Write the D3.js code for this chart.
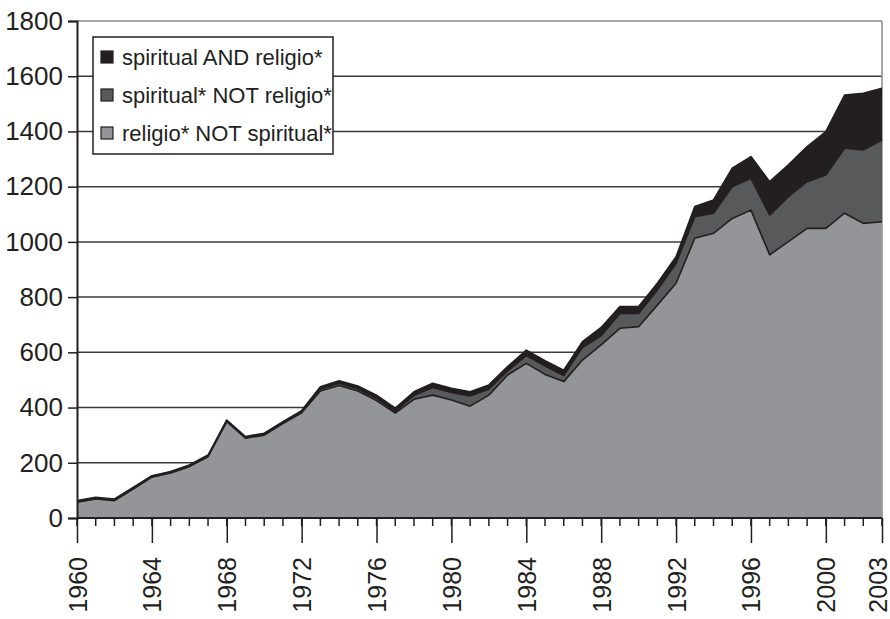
<!DOCTYPE html>
<html>
<head>
<meta charset="utf-8">
<script src="https://cdn.jsdelivr.net/npm/d3@7"></script>
<style>
  body { margin: 0; background: #fff; }
  svg text { font-family: "Liberation Sans", Arial, sans-serif; fill: #231f20; }
</style>
</head>
<body>
<div id="chart"></div>
<script>
// years on the x axis
var years = d3.range(1960, 2004);

// religio* NOT spiritual*
var religioNotSpiritual = [57, 69, 63, 105, 148, 163, 186, 222, 349, 289,
    300, 342, 381, 460, 480, 460, 425, 380, 430, 445,
    427, 405, 445, 518, 560, 520, 494, 572, 627, 687,
    693, 771, 850, 1013, 1031, 1085, 1115, 953, 1001, 1049,
    1049, 1104, 1067, 1073];

// spiritual* NOT religio*
var spiritualNotReligio = [2, 2, 2, 2, 2, 2, 2, 2, 2, 2,
    3, 3, 3, 7, 8, 8, 8, 6, 14, 28,
    28, 37, 22, 15, 28, 30, 22, 45, 33, 54,
    48, 55, 72, 78, 73, 115, 115, 144, 163, 169,
    193, 235, 266, 296];

// spiritual AND religio*
var spiritualAndReligio = [4, 4, 4, 4, 3, 3, 4, 4, 4, 4,
    4, 4, 5, 8, 9, 10, 12, 12, 13, 15,
    15, 15, 15, 15, 20, 20, 19, 22, 30, 25,
    25, 24, 24, 37, 48, 67, 79, 121, 115, 127,
    157, 193, 205, 187];

var seriesNames = ["religio* NOT spiritual*", "spiritual* NOT religio*", "spiritual AND religio*"];
var seriesColors = ["#939598", "#58595b", "#231f20"];
var yTicks = [0, 200, 400, 600, 800, 1000, 1200, 1400, 1600, 1800];
var xLabelYears = [1960, 1964, 1968, 1972, 1976, 1980, 1984, 1988, 1992, 1996, 2000, 2003];

var W = 890, H = 619;
var margin = { top: 21, right: 8, bottom: 101, left: 77 };

var svg = d3.select("#chart").append("svg")
    .attr("width", W)
    .attr("height", H);

var x = d3.scaleLinear().domain([1960, 2003]).range([margin.left, W - margin.right]);
var y = d3.scaleLinear().domain([0, 1800]).range([H - margin.bottom, margin.top]);

// build rows for stack
var data = years.map(function (yr, i) {
    return { year: yr, s0: religioNotSpiritual[i], s1: spiritualNotReligio[i], s2: spiritualAndReligio[i] };
});
var stack = d3.stack().keys(["s0", "s1", "s2"]);
var layers = stack(data);

// gridlines
svg.append("g")
    .selectAll("line")
    .data(yTicks.filter(function (d) { return d > 0; }))
    .enter().append("line")
    .attr("x1", x(1960)).attr("x2", x(2003))
    .attr("y1", function (d) { return y(d); })
    .attr("y2", function (d) { return y(d); })
    .attr("stroke", function (d) { return d == 1800 ? "#8a8a8a" : "#3a3a3a"; })
    .attr("stroke-width", 1.5);

// right border
svg.append("line")
    .attr("x1", x(2003)).attr("x2", x(2003))
    .attr("y1", y(1800)).attr("y2", y(0))
    .attr("stroke", "#8a8a8a").attr("stroke-width", 1.5);

// areas
var area = d3.area()
    .x(function (d) { return x(d.data.year); })
    .y0(function (d) { return y(d[0]); })
    .y1(function (d) { return y(d[1]); });

svg.append("g")
    .selectAll("path")
    .data(layers)
    .enter().append("path")
    .attr("d", area)
    .attr("fill", function (d, i) { return seriesColors[i]; });

// outline on top of each layer
var topLine = d3.line()
    .x(function (d) { return x(d.data.year); })
    .y(function (d) { return y(d[1]); });

svg.append("g")
    .selectAll("path")
    .data(layers)
    .enter().append("path")
    .attr("d", topLine)
    .attr("fill", "none")
    .attr("stroke", "#231f20")
    .attr("stroke-width", 1.6)
    .attr("stroke-linejoin", "round");

// y axis
var yAxis = svg.append("g")
    .attr("transform", "translate(" + x(1960) + ",0)")
    .call(d3.axisLeft(y).tickValues(yTicks).tickSize(9).tickPadding(5).tickFormat(d3.format("d")));
yAxis.select(".domain").attr("stroke", "#231f20").attr("stroke-width", 2);
yAxis.selectAll(".tick line").attr("stroke", "#231f20").attr("stroke-width", 1.5);
yAxis.selectAll("text").attr("font-size", 26).attr("fill", "#231f20").attr("font-family", null);

// x axis minor ticks
var xAxisG = svg.append("g").attr("transform", "translate(0," + y(0) + ")");
xAxisG.selectAll(".minor")
    .data(years)
    .enter().append("line")
    .attr("x1", function (d) { return x(d); })
    .attr("x2", function (d) { return x(d); })
    .attr("y1", 0).attr("y2", 8)
    .attr("stroke", "#231f20").attr("stroke-width", 1.5);

var xAxis = xAxisG.append("g")
    .call(d3.axisBottom(x).tickValues(xLabelYears).tickSize(25).tickPadding(0).tickFormat(d3.format("d")));
xAxis.select(".domain").attr("stroke", "#231f20").attr("stroke-width", 2).attr("d", "M" + x(1960) + ",0H" + x(2003));
xAxis.selectAll(".tick line").attr("stroke", "#231f20").attr("stroke-width", 1.5);
xAxis.selectAll("text")
    .attr("font-size", 25)
    .attr("font-family", null)
    .attr("fill", "#231f20")
    .attr("text-anchor", "end")
    .attr("dy", null)
    .attr("y", 0)
    .attr("transform", function (d) { return d == 2003 ? "translate(4,39) rotate(-90)" : "translate(9,39) rotate(-90)"; });

// legend
var legend = svg.append("g").attr("transform", "translate(93,37)");
legend.append("rect")
    .attr("width", 240).attr("height", 117)
    .attr("fill", "#fff")
    .attr("stroke", "#231f20")
    .attr("stroke-width", 1.5);

var legendOrder = [2, 1, 0];
var rows = legend.selectAll(".row")
    .data(legendOrder)
    .enter().append("g")
    .attr("transform", function (d, i) { return "translate(8," + (20 + i * 38) + ")"; });
rows.append("rect")
    .attr("x", 0).attr("y", -6)
    .attr("width", 12).attr("height", 12)
    .attr("fill", function (d) { return seriesColors[d]; })
    .attr("stroke", "#231f20")
    .attr("stroke-width", 1.2);
rows.append("text")
    .attr("x", 21).attr("y", 0)
    .attr("dy", "0.35em")
    .attr("font-size", 22)
    .text(function (d) { return seriesNames[d]; });
</script>
</body>
</html>
